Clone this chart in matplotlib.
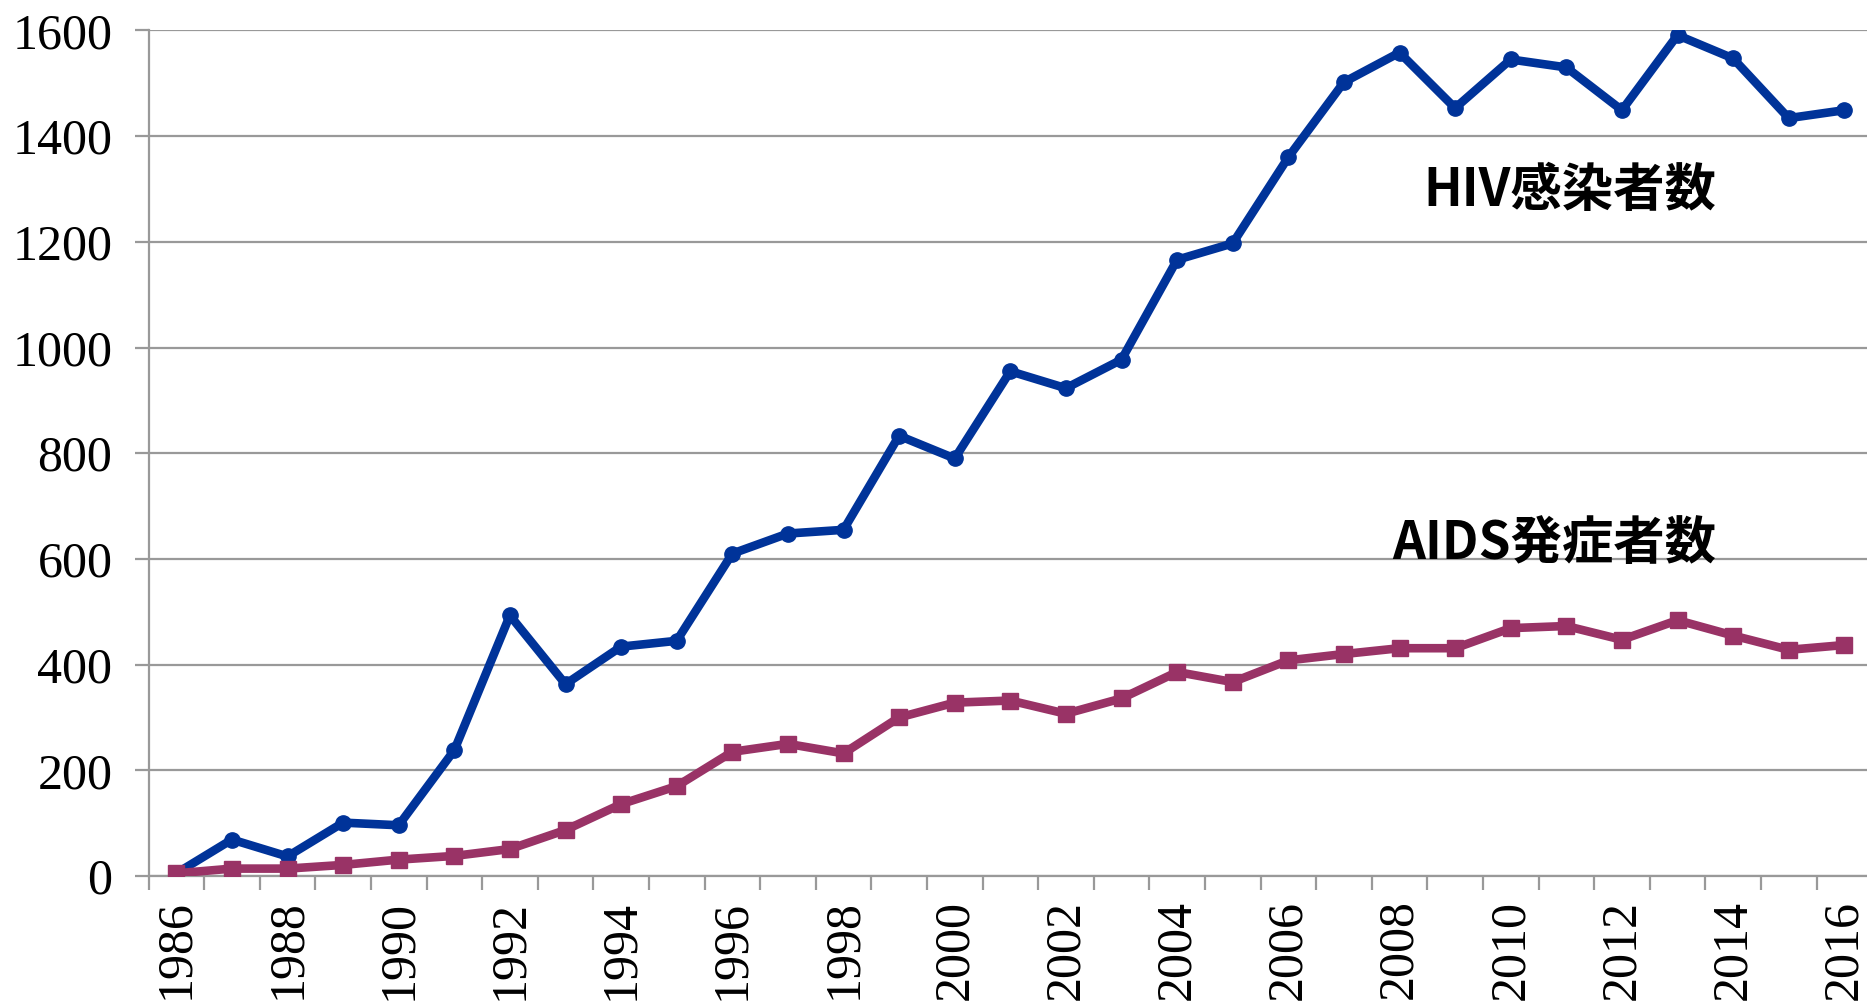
import matplotlib
matplotlib.use("Agg")
import matplotlib.pyplot as plt
from matplotlib.ticker import MultipleLocator, FixedLocator

years = list(range(1986, 2017))
hiv = [5, 69, 37, 101, 96, 238, 493, 363, 434, 445, 610, 648, 655, 833, 790, 955,
       923, 977, 1166, 1197, 1360, 1502, 1558, 1453, 1545, 1530, 1449, 1591, 1547, 1434, 1449]
aids = [5, 14, 14, 21, 31, 38, 51, 87, 136, 170, 235, 250, 232, 300, 328, 332,
        307, 336, 386, 367, 408, 420, 431, 431, 469, 473, 447, 484, 455, 428, 437]
label_hiv = "HIV感染者数"
label_aids = "AIDS発症者数"

blue = "#003399"
purple = "#993366"
grid_c = "#999999"

fig = plt.figure(figsize=(18.67, 10.02), dpi=100)
ax = fig.add_axes([148.5 / 1867, 126 / 1002, 31 * 55.6 / 1867, 845.6 / 1002])

ax.plot(years, hiv, color=blue, lw=6.2, marker="o", ms=11, zorder=3,
        solid_joinstyle="round")
ax.plot(years, aids, color=purple, lw=6.2, marker="s", ms=11.5, zorder=4,
        solid_joinstyle="round")

ax.set_xlim(1985.5, 2016.5)
ax.set_ylim(0, 1600)

ax.yaxis.set_major_locator(MultipleLocator(200))
ax.yaxis.grid(True, color=grid_c, lw=1.6)
ax.set_axisbelow(True)

ax.xaxis.set_major_locator(FixedLocator([y for y in years if y % 2 == 0]))
ax.xaxis.set_minor_locator(FixedLocator([y - 0.5 for y in years] + [2016.5]))
ax.tick_params(axis="x", which="major", length=0, pad=17, labelrotation=90)
ax.tick_params(axis="x", which="minor", length=10, width=1.6, color=grid_c)
ax.tick_params(axis="y", which="major", length=10, width=1.6, color=grid_c, pad=16)

for lab in ax.get_xticklabels() + ax.get_yticklabels():
    lab.set_fontfamily("Liberation Serif")
    lab.set_fontsize(36)

for s in ["top", "right"]:
    ax.spines[s].set_visible(False)
for s in ["left", "bottom"]:
    ax.spines[s].set_color(grid_c)
    ax.spines[s].set_linewidth(1.6)

ax.text(2013.7, 1298, label_hiv, ha="right", va="center", fontsize=37,
        fontweight="bold", family=["Noto Sans CJK JP", "DejaVu Sans"])
ax.text(2013.7, 630, label_aids, ha="right", va="center", fontsize=37,
        fontweight="bold", family=["Noto Sans CJK JP", "DejaVu Sans"])

fig.savefig("out.png", dpi=100)
